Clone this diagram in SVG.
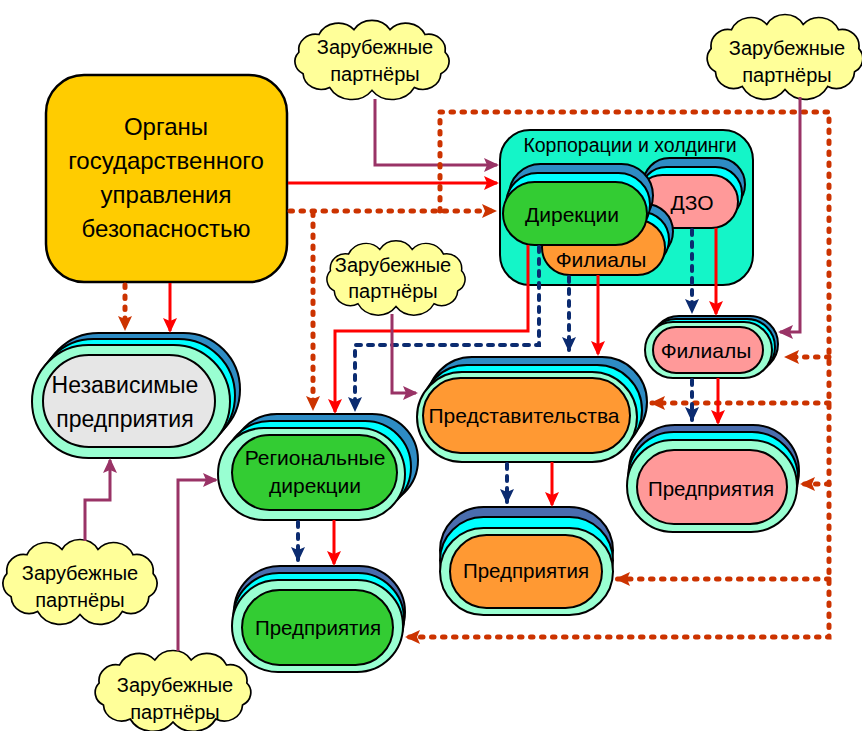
<svg xmlns="http://www.w3.org/2000/svg" xmlns:xlink="http://www.w3.org/1999/xlink" width="862" height="731" viewBox="0 0 862 731">
<style>
.t{font-family:"Liberation Sans",Arial,sans-serif;text-anchor:middle;fill:#000}
.s{stroke:#000;stroke-width:2}
.blue{fill:#2E8CC4}
.slate{fill:#4A6DAE}
.cyan{fill:#00FFFF}
.mint{fill:#99FFD2}
.green{fill:#33CC33}
.gray{fill:#E6E6E6}
.orange{fill:#FF9933}
.pink{fill:#FF9999}
.cloud{fill:#FFFF99;stroke:#000;stroke-width:1.6}
.red{fill:none;stroke:#FF0000;stroke-width:3}
.dot{fill:none;stroke:#CC3300;stroke-width:5;stroke-dasharray:2.5 8.5;stroke-linecap:round}
.nav{fill:none;stroke:#0B2B70;stroke-width:4;stroke-dasharray:5 7;stroke-linecap:round}
.pur{fill:none;stroke:#993366;stroke-width:3}
</style>
<defs>
<path id="cl" d="M-50,-26 A20,20 0 0 1 -17,-31 A20,20 0 0 1 17,-31 A20,20 0 0 1 50,-26 A16,16 0 0 1 69,-8 A14,14 0 0 1 65,14 A17,17 0 0 1 40,28 A24,24 0 0 1 0,31 A24,24 0 0 1 -40,28 A17,17 0 0 1 -65,14 A14,14 0 0 1 -69,-8 A16,16 0 0 1 -50,-26 Z"/>
<marker id="aR" markerWidth="16" markerHeight="14" refX="13" refY="7" orient="auto" markerUnits="userSpaceOnUse"><path d="M0,0 L15,7 L0,14 L3,7 z" fill="#FF0000"/></marker>
<marker id="aN" markerWidth="16" markerHeight="14" refX="13" refY="7" orient="auto" markerUnits="userSpaceOnUse"><path d="M0,0 L15,7 L0,14 L3,7 z" fill="#0B2B70"/></marker>
<marker id="aP" markerWidth="16" markerHeight="14" refX="13" refY="7" orient="auto" markerUnits="userSpaceOnUse"><path d="M0,0 L15,7 L0,14 L3,7 z" fill="#993366"/></marker>
<marker id="aD" markerWidth="16" markerHeight="14" refX="13" refY="7" orient="auto" markerUnits="userSpaceOnUse"><path d="M0,0 L15,7 L0,14 L3,7 z" fill="#CC3300"/></marker>
</defs>

<g id="organy">
<rect x="46" y="75" width="241" height="207" rx="38" fill="#FFCC00" stroke="#000" stroke-width="2.5"/>
<text class="t" font-size="24" x="166" y="135">Органы</text>
<text class="t" font-size="24" x="166" y="169">государственного</text>
<text class="t" font-size="24" x="166" y="203">управления</text>
<text class="t" font-size="24" x="166" y="237">безопасностью</text>
</g>

<g id="corp">
<rect x="500" y="130" width="253" height="155" rx="30" fill="#14F5C8" stroke="#000" stroke-width="2"/>
<text class="t" font-size="19.5" x="630" y="152">Корпорации и холдинги</text>
</g>

<g id="dzo">
<rect class="s blue" x="643" y="158" width="102" height="53" rx="26.5"/>
<rect class="s cyan" x="640" y="167" width="102" height="53" rx="26.5"/>
<rect class="s pink" x="636" y="175" width="102" height="53" rx="26.5"/>
<text class="t" font-size="21" x="692" y="210">ДЗО</text>
</g>

<g id="filialy-corp">
<rect class="s blue" x="550" y="204" width="123" height="55" rx="27.5"/>
<rect class="s cyan" x="546" y="212" width="123" height="55" rx="27.5"/>
<rect class="s orange" x="542" y="220" width="123" height="55" rx="27.5"/>
<text class="t" font-size="21" x="601" y="267">Филиалы</text>
</g>

<g id="direkcii">
<rect class="s blue" x="509" y="164" width="144" height="63" rx="31.5"/>
<rect class="s cyan" x="506" y="173" width="144" height="63" rx="31.5"/>
<rect class="s green" x="503" y="182" width="144" height="63" rx="31.5"/>
<text class="t" font-size="21" x="572" y="222">Дирекции</text>
</g>

<g id="nezavisimye">
<rect class="s blue" x="42" y="333" width="198" height="113" rx="56.5"/>
<rect class="s cyan" x="37" y="339" width="198" height="113" rx="56.5"/>
<rect class="s mint" x="32" y="345" width="198" height="113" rx="56.5"/>
<rect class="s gray" x="43" y="355" width="172" height="92" rx="46"/>
<text class="t" font-size="23" x="125" y="393">Независимые</text>
<text class="t" font-size="23" x="125" y="427">предприятия</text>
</g>

<g id="regionalnye">
<rect class="s blue" x="231" y="414" width="187" height="92" rx="46"/>
<rect class="s cyan" x="224" y="421" width="187" height="92" rx="46"/>
<rect class="s mint" x="218" y="428" width="187" height="92" rx="46"/>
<rect class="s green" x="232" y="435" width="165" height="75" rx="37.5"/>
<text class="t" font-size="21" x="315" y="465">Региональные</text>
<text class="t" font-size="21" x="315" y="493">дирекции</text>
</g>

<g id="predpr-green">
<rect class="s slate" x="234" y="566" width="171" height="92" rx="46"/>
<rect class="s cyan" x="233" y="573" width="171" height="92" rx="46"/>
<rect class="s mint" x="232" y="580" width="171" height="92" rx="46"/>
<rect class="s green" x="242" y="590" width="151" height="75" rx="37.5"/>
<text class="t" font-size="20.5" x="318" y="635">Предприятия</text>
</g>

<g id="predstavitelstva">
<rect class="s blue" x="427" y="357" width="220" height="90" rx="45"/>
<rect class="s cyan" x="422" y="365" width="220" height="90" rx="45"/>
<rect class="s mint" x="417" y="372" width="220" height="90" rx="45"/>
<rect class="s orange" x="423" y="378" width="207" height="75" rx="37.5"/>
<text class="t" font-size="21" x="524" y="423">Представительства</text>
</g>

<g id="predpr-orange">
<rect class="s slate" x="440" y="507" width="173" height="87" rx="43.5"/>
<rect class="s cyan" x="440" y="517" width="173" height="87" rx="43.5"/>
<rect class="s mint" x="440" y="528" width="173" height="87" rx="43.5"/>
<rect class="s orange" x="450" y="535" width="152" height="73" rx="36.5"/>
<text class="t" font-size="20.5" x="526" y="578">Предприятия</text>
</g>

<g id="filialy">
<rect class="s blue" x="651" y="316" width="127" height="56" rx="28"/>
<rect class="s cyan" x="648" y="319" width="127" height="56" rx="28"/>
<rect class="s mint" x="645" y="322" width="127" height="56" rx="28"/>
<rect class="s pink" x="653" y="327" width="110" height="46" rx="23"/>
<text class="t" font-size="21" x="706" y="358">Филиалы</text>
</g>

<g id="predpr-pink">
<rect class="s slate" x="629" y="425" width="170" height="92" rx="46"/>
<rect class="s cyan" x="628" y="432" width="170" height="92" rx="46"/>
<rect class="s mint" x="627" y="440" width="170" height="92" rx="46"/>
<rect class="s pink" x="637" y="450" width="150" height="74" rx="37"/>
<text class="t" font-size="20.5" x="711" y="496">Предприятия</text>
</g>

<g id="cloud1">
<use xlink:href="#cl" href="#cl" class="cloud" transform="translate(372,60) scale(1.06,0.98)"/>
<text class="t" font-size="20" x="375" y="54">Зарубежные</text>
<text class="t" font-size="20" x="375" y="81">партнёры</text>
</g>
<g id="cloud2">
<use xlink:href="#cl" href="#cl" class="cloud" transform="translate(785,57) scale(1.07,1.05)"/>
<text class="t" font-size="20" x="787" y="55">Зарубежные</text>
<text class="t" font-size="20" x="787" y="82">партнёры</text>
</g>
<g id="cloud3">
<use xlink:href="#cl" href="#cl" class="cloud" transform="translate(396,278) scale(0.95,0.92)"/>
<text class="t" font-size="20" x="393" y="272">Зарубежные</text>
<text class="t" font-size="20" x="393" y="298">партнёры</text>
</g>
<g id="cloud4">
<use xlink:href="#cl" href="#cl" class="cloud" transform="translate(80,582) scale(1.06,1.05)"/>
<text class="t" font-size="20" x="80" y="580">Зарубежные</text>
<text class="t" font-size="20" x="80" y="607">партнёры</text>
</g>
<g id="cloud5">
<use xlink:href="#cl" href="#cl" class="cloud" transform="translate(173,691) scale(1.07,1.0)"/>
<text class="t" font-size="20" x="175" y="692">Зарубежные</text>
<text class="t" font-size="20" x="175" y="719">партнёры</text>
</g>

<g id="connectors">
<path class="pur" d="M375,99 V165 H497" marker-end="url(#aP)"/>
<path class="red" d="M288,183 H497" marker-end="url(#aR)"/>
<path class="dot" d="M290,211 H495" marker-end="url(#aD)"/>
<path class="dot" d="M440,211 V112 H829 V637 H407" marker-end="url(#aD)"/>
<path class="dot" d="M829,357 H786" marker-end="url(#aD)"/>
<path class="dot" d="M829,403 H652" marker-end="url(#aD)"/>
<path class="dot" d="M829,484 H802" marker-end="url(#aD)"/>
<path class="dot" d="M829,579 H617" marker-end="url(#aD)"/>
<path class="dot" d="M313,213 V409" marker-end="url(#aD)"/>
<path class="dot" d="M125,285 V329" marker-end="url(#aD)"/>
<path class="red" d="M170,283 V331" marker-end="url(#aR)"/>
<path class="red" d="M528,245 V331 H335 V412" marker-end="url(#aR)"/>
<path class="nav" d="M539,247 V345 H355 V410" marker-end="url(#aN)"/>
<path class="nav" d="M569,277 V350" marker-end="url(#aN)"/>
<path class="red" d="M598,275 V354" marker-end="url(#aR)"/>
<path class="nav" d="M692,230 V312" marker-end="url(#aN)"/>
<path class="red" d="M716,228 V314" marker-end="url(#aR)"/>
<path class="nav" d="M692,380 V420" marker-end="url(#aN)"/>
<path class="red" d="M718,378 V423" marker-end="url(#aR)"/>
<path class="nav" d="M507,464 V502" marker-end="url(#aN)"/>
<path class="red" d="M552,462 V505" marker-end="url(#aR)"/>
<path class="nav" d="M298,522 V560" marker-end="url(#aN)"/>
<path class="red" d="M334,520 V564" marker-end="url(#aR)"/>
<path class="pur" d="M800,97 V332 H780" marker-end="url(#aP)"/>
<path class="pur" d="M392,314 V393 H416" marker-end="url(#aP)"/>
<path class="pur" d="M85,541 V500 H110 V460" marker-end="url(#aP)"/>
<path class="pur" d="M178,651 V480 H216" marker-end="url(#aP)"/>
</g>
</svg>
